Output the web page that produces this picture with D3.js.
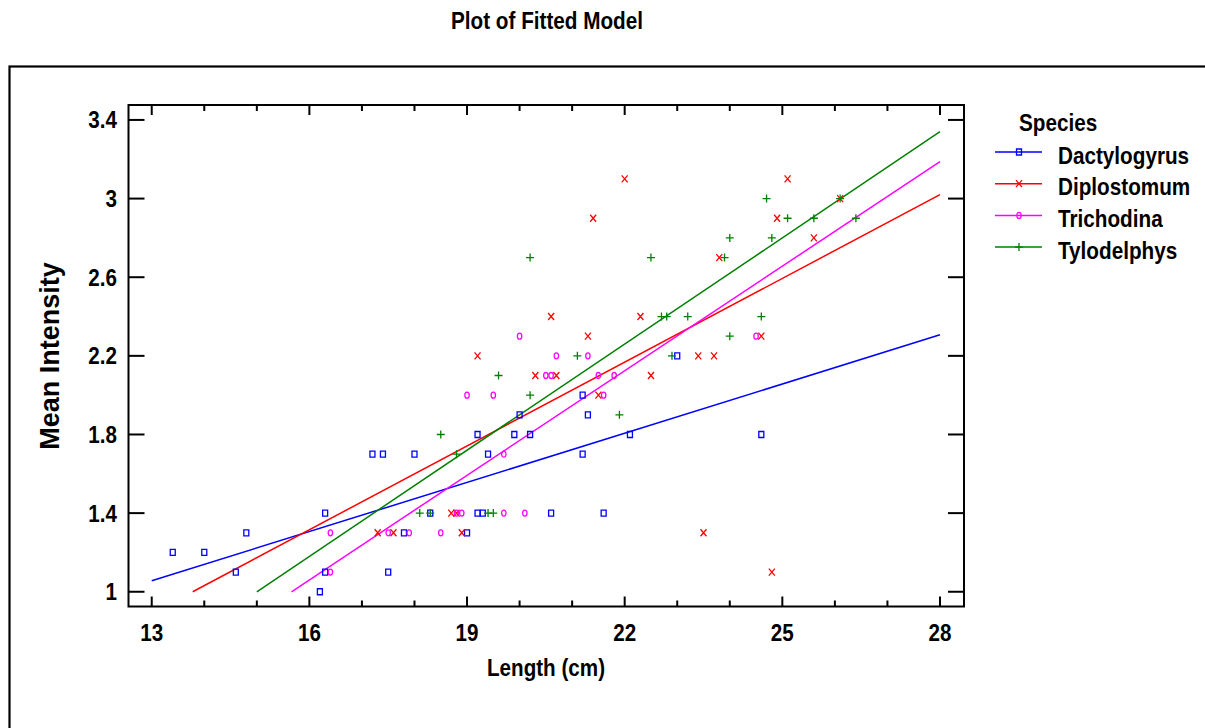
<!DOCTYPE html>
<html>
<head>
<meta charset="utf-8">
<script src="https://cdn.jsdelivr.net/npm/d3@7"></script>
<style>
    body { margin: 0; background: #fff; }
    text { font-family: 'Liberation Sans', Arial, sans-serif; font-weight: bold; fill: #000; }
</style>
</head>
<body>
<svg id="chart"></svg>
<script>
// Species and their colours.
const species = ['Dactylogyrus', 'Diplostomum', 'Trichodina', 'Tylodelphys'];
const colors = ['#0000ff', '#ff0000', '#ff00ff', '#008000'];
const markerTypes = ['square', 'x', 'circle', 'plus'];

// Observed points: [length (cm), mean intensity].
const dactylogyrus = [
    [13.4, 1.2], [14.0, 1.2], [14.6, 1.1], [14.8, 1.3], [16.2, 1.0], [16.3, 1.4], [16.3, 1.1],
    [17.2, 1.7], [17.4, 1.7], [17.5, 1.1], [17.8, 1.3], [18.0, 1.7], [18.3, 1.4], [19.0, 1.3],
    [19.2, 1.4], [19.3, 1.4], [19.2, 1.8], [19.4, 1.7], [19.9, 1.8], [20.0, 1.9], [20.2, 1.8],
    [20.6, 1.4], [21.2, 2.0], [21.2, 1.7], [21.3, 1.9], [21.6, 1.4], [22.1, 1.8], [23.0, 2.2],
    [24.6, 1.8],
];
const diplostomum = [
    [17.3, 1.3], [17.6, 1.3], [18.7, 1.4], [18.8, 1.4], [18.9, 1.3], [19.2, 2.2], [20.3, 2.1],
    [20.6, 2.4], [20.7, 2.1], [21.3, 2.3], [21.4, 2.9], [21.5, 2.0], [22.0, 3.1], [22.3, 2.4],
    [22.5, 2.1], [23.4, 2.2], [23.5, 1.3], [23.7, 2.2], [23.8, 2.7], [24.6, 2.3], [24.8, 1.1],
    [24.9, 2.9], [25.1, 3.1], [25.6, 2.8], [26.1, 3.0],
];
const trichodina = [
    [16.4, 1.3], [16.4, 1.1], [17.5, 1.3], [17.9, 1.3], [18.5, 1.3], [18.8, 1.4], [18.9, 1.4],
    [19.7, 1.4], [20.1, 1.4], [19.7, 1.7], [19.0, 2.0], [19.5, 2.0], [20.0, 2.3], [20.5, 2.1],
    [20.6, 2.1], [20.7, 2.2], [21.3, 2.2], [21.5, 2.1], [21.6, 2.0], [21.8, 2.1], [24.5, 2.3],
];
const tylodelphys = [
    [18.1, 1.4], [18.3, 1.4], [19.4, 1.4], [19.5, 1.4], [18.5, 1.8], [18.8, 1.7], [19.6, 2.1],
    [20.2, 2.0], [20.2, 2.7], [21.1, 2.2], [21.9, 1.9], [22.5, 2.7], [22.7, 2.4], [22.8, 2.4],
    [22.9, 2.2], [23.2, 2.4], [23.9, 2.7], [24.0, 2.8], [24.0, 2.3], [24.6, 2.4], [24.7, 3.0],
    [24.8, 2.8], [25.1, 2.9], [25.6, 2.9], [26.1, 3.0], [26.4, 2.9],
];
const points = [dactylogyrus, diplostomum, trichodina, tylodelphys];

// Fitted lines, start and end [length, intensity].
const fitStart = [[13.0, 1.056], [13.78, 1.0], [15.66, 1.0], [15.0, 1.0]];
const fitEnd = [[28.0, 2.307], [28.0, 3.02], [28.0, 3.188], [28.0, 3.34]];

// Ticks.
const xTicks = d3.range(13, 29);
const xLabels = [13, 16, 19, 22, 25, 28];
const yTicks = [1, 1.4, 1.8, 2.2, 2.6, 3, 3.4];

// Chart dimensions.
const width = 1205;
const height = 728;
const plotLeft = 128.5, plotRight = 964, plotTop = 105, plotBottom = 606.5;
const narrow = 0.86; // condensed look of the original font

const x = d3.scaleLinear().domain([12.558, 28.457]).range([plotLeft, plotRight]);
const y = d3.scaleLinear().domain([0.925, 3.476]).range([plotBottom, plotTop]);

const svg = d3.select('#chart').attr('width', width).attr('height', height);

// Adds a horizontally condensed text anchored at (tx, ty).
function addText(parent, tx, ty, str, size, anchor, squeeze = narrow) {
    return parent.append('text')
        .attr('transform', `translate(${tx}, ${ty}) scale(${squeeze}, 1)`)
        .attr('text-anchor', anchor)
        .style('font-size', size + 'px')
        .text(str);
}

// Outer frame (runs off the page on the right and bottom).
svg.append('rect')
    .attr('x', 9.5).attr('y', 66.5)
    .attr('width', 1400).attr('height', 900)
    .attr('fill', 'none').attr('stroke', '#000').attr('stroke-width', 2.2);

// Title.
addText(svg, 547, 29, 'Plot of Fitted Model', 23, 'middle', 0.9);

// Plot frame.
svg.append('rect')
    .attr('x', plotLeft).attr('y', plotTop)
    .attr('width', plotRight - plotLeft).attr('height', plotBottom - plotTop)
    .attr('fill', 'none').attr('stroke', '#000').attr('stroke-width', 2);

// X ticks, inside on bottom and top.
const ticks = svg.append('g').attr('stroke', '#000').attr('stroke-width', 2);
xTicks.forEach(t => {
    const len = xLabels.includes(t) ? 10 : 6;
    ticks.append('line').attr('x1', x(t)).attr('x2', x(t)).attr('y1', plotBottom).attr('y2', plotBottom - len);
    ticks.append('line').attr('x1', x(t)).attr('x2', x(t)).attr('y1', plotTop).attr('y2', plotTop + len);
});
// Y ticks, inside on left and right.
yTicks.forEach(t => {
    ticks.append('line').attr('x1', plotLeft).attr('x2', plotLeft + 16).attr('y1', y(t)).attr('y2', y(t));
    ticks.append('line').attr('x1', plotRight).attr('x2', plotRight - 16).attr('y1', y(t)).attr('y2', y(t));
});

// Tick labels.
const xLabelGroup = svg.append('g');
xLabels.forEach(t => addText(xLabelGroup, x(t), 641, t, 24, 'middle'));

const yLabelGroup = svg.append('g');
yTicks.forEach(t => addText(yLabelGroup, 117, y(t) + 8.5, t, 24, 'end'));

// Axis titles.
addText(svg, 546, 676, 'Length (cm)', 24, 'middle');

svg.append('text')
    .attr('transform', 'translate(59, 356) rotate(-90)')
    .attr('text-anchor', 'middle')
    .style('font-size', '27px')
    .text('Mean Intensity');

// Marker shapes.
function markerPath(type, cx, cy) {
    if (type === 'square') return `M${cx - 2.5},${cy - 3}h5v6h-5Z`;
    if (type === 'x') return `M${cx - 3},${cy - 3.5}L${cx + 3},${cy + 3.5}M${cx + 3},${cy - 3.5}L${cx - 3},${cy + 3.5}`;
    if (type === 'circle') return `M${cx - 2.2},${cy}a2.2,3 0 1,0 4.4,0a2.2,3 0 1,0 -4.4,0`;
    return `M${cx - 4},${cy}h8M${cx},${cy - 4}v8`;
}

// Fitted lines.
svg.append('g')
    .selectAll('line')
    .data(species)
    .enter()
    .append('line')
    .attr('x1', (d, i) => x(fitStart[i][0]))
    .attr('y1', (d, i) => y(fitStart[i][1]))
    .attr('x2', (d, i) => x(fitEnd[i][0]))
    .attr('y2', (d, i) => y(fitEnd[i][1]))
    .attr('stroke', (d, i) => colors[i])
    .attr('stroke-width', 1.5);

// Points.
points.forEach((series, i) => {
    svg.append('g')
        .selectAll('path')
        .data(series)
        .enter()
        .append('path')
        .attr('d', d => markerPath(markerTypes[i], x(d[0]), y(d[1])))
        .attr('fill', 'none')
        .attr('stroke', colors[i])
        .attr('stroke-width', 1.3);
});

// Legend.
const legend = svg.append('g');
addText(legend, 1019, 131, 'Species', 23, 'start', 0.9);

species.forEach((name, i) => {
    const ly = 152 + i * 31.7;
    legend.append('line')
        .attr('x1', 995).attr('x2', 1042).attr('y1', ly).attr('y2', ly)
        .attr('stroke', colors[i]).attr('stroke-width', 1.5);
    legend.append('path')
        .attr('d', markerPath(markerTypes[i], 1019, ly))
        .attr('fill', 'none').attr('stroke', colors[i]).attr('stroke-width', 1.3);
    addText(legend, 1058, ly + 11.5, name, 23, 'start', 0.9);
});
</script>
</body>
</html>
